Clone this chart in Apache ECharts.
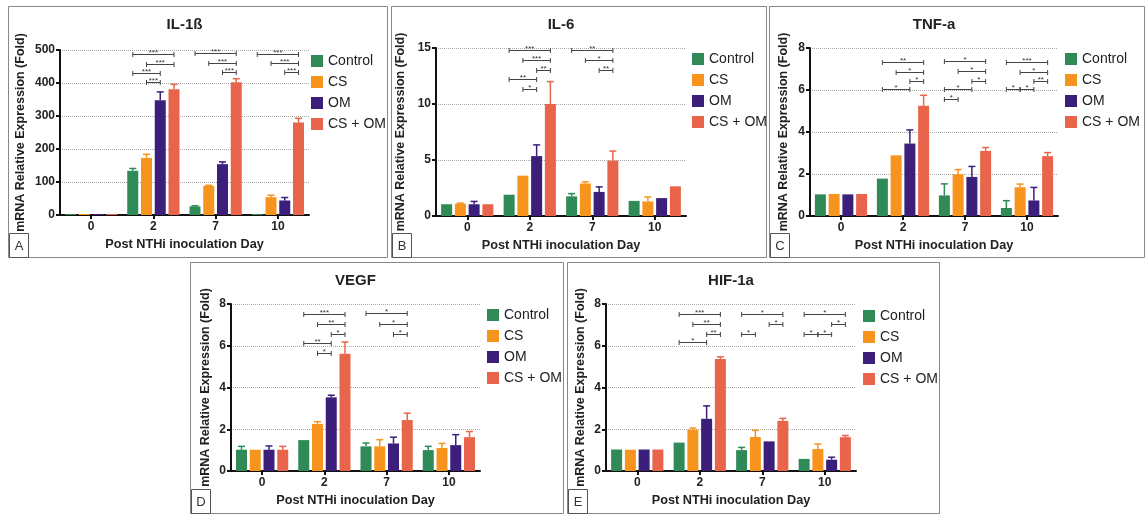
<!DOCTYPE html>
<html><head><meta charset="utf-8">
<script src="https://cdn.jsdelivr.net/npm/echarts@6/dist/echarts.min.js"></script>
<style>html,body{margin:0;padding:0;background:#fff}#c{width:1148px;height:515px}</style>
</head><body><div id="c"></div>
<script>
// ---------- DATA ----------
const days = ['0', '2', '7', '10'];
const groups = ['Control', 'CS', 'OM', 'CS + OM'];
const panelTitles = ['IL-1ß', 'IL-6', 'TNF-a', 'VEGF', 'HIF-1a'];
const panelLetters = ['A', 'B', 'C', 'D', 'E'];
const yMax = [500, 15, 8, 8, 8];
const yStep = [100, 5, 2, 2, 2];

// means: one row per group (Control, CS, OM, CS + OM), one column per day
const il1bMeans = [[1, 134, 26, 2], [1, 173, 88, 54], [1, 348, 154, 44], [1, 381, 402, 280]];
const il1bErrors = [[0, 7, 2, 0], [0, 11, 2, 6], [0, 25, 7, 9], [0, 15, 11, 13]];
const il6Means = [[1.05, 1.9, 1.75, 1.35], [1.1, 3.6, 2.9, 1.3], [1.05, 5.35, 2.15, 1.6], [1.05, 10.0, 4.95, 2.65]];
const il6Errors = [[0, 0, 0.25, 0], [0.05, 0, 0.15, 0.4], [0.25, 1.0, 0.45, 0], [0, 2.0, 0.85, 0]];
const tnfMeans = [[1.03, 1.78, 0.98, 0.38], [1.05, 2.89, 1.99, 1.37], [1.03, 3.45, 1.86, 0.74], [1.05, 5.25, 3.1, 2.85]];
const tnfErrors = [[0, 0, 0.55, 0.35], [0, 0, 0.22, 0.15], [0, 0.65, 0.5, 0.62], [0, 0.5, 0.16, 0.17]];
const vegfMeans = [[1.02, 1.48, 1.18, 1.0], [1.02, 2.25, 1.18, 1.1], [1.02, 3.53, 1.32, 1.24], [1.02, 5.62, 2.44, 1.62]];
const vegfErrors = [[0.16, 0, 0.16, 0.18], [0, 0.11, 0.32, 0.22], [0.18, 0.1, 0.3, 0.5], [0.16, 0.56, 0.33, 0.27]];
const hifMeans = [[1.03, 1.36, 1.0, 0.58], [1.02, 1.98, 1.63, 1.05], [1.03, 2.5, 1.42, 0.54], [1.03, 5.37, 2.4, 1.62]];
const hifErrors = [[0, 0, 0.13, 0], [0, 0.08, 0.32, 0.24], [0, 0.62, 0, 0.12], [0, 0.1, 0.12, 0.08]];

// significance brackets: [dayIndex, fromGroup, toGroup, yValue, label]
const il1bSig = [[1,0,3,487,'***'],[1,1,3,459,'***'],[1,0,2,429,'***'],[1,1,2,404,'***'],
  [2,0,3,490,'***'],[2,1,3,461,'***'],[2,2,3,434,'***'],
  [3,0,3,489,'***'],[3,1,3,460,'***'],[3,2,3,434,'***']];
const il6Sig = [[1,0,3,14.8,'***'],[1,1,3,13.9,'***'],[1,2,3,13.0,'**'],[1,0,2,12.2,'**'],[1,1,2,11.3,'*'],
  [2,0,3,14.8,'**'],[2,1,3,13.9,'*'],[2,2,3,13.0,'**']];
const tnfSig = [[1,0,3,7.34,'**'],[1,1,3,6.88,'*'],[1,2,3,6.42,'*'],[1,0,2,6.03,'*'],
  [2,0,3,7.39,'*'],[2,1,3,6.9,'*'],[2,2,3,6.44,'*'],[2,0,2,6.03,'*'],[2,0,1,5.55,'*'],
  [3,0,3,7.34,'***'],[3,1,3,6.88,'*'],[3,2,3,6.42,'**'],[3,0,1,6.03,'*'],[3,1,2,6.03,'*']];
const vegfSig = [[1,0,3,7.51,'***'],[1,1,3,7.04,'**'],[1,2,3,6.58,'*'],[1,0,2,6.12,'**'],[1,1,2,5.64,'*'],
  [2,0,3,7.56,'*'],[2,1,3,7.06,'*'],[2,2,3,6.57,'*']];
const hifSig = [[1,0,3,7.51,'***'],[1,1,3,7.02,'**'],[1,2,3,6.57,'**'],[1,0,2,6.17,'*'],
  [2,0,3,7.53,'*'],[2,2,3,7.02,'*'],[2,0,1,6.57,'*'],
  [3,0,3,7.53,'*'],[3,2,3,7.02,'*'],[3,0,1,6.57,'*'],[3,1,2,6.57,'*']];

const allMeans = [il1bMeans, il6Means, tnfMeans, vegfMeans, hifMeans];
const allErrors = [il1bErrors, il6Errors, tnfErrors, vegfErrors, hifErrors];
const allSig = [il1bSig, il6Sig, tnfSig, vegfSig, hifSig];

// ---------- STYLE / LAYOUT ----------
const groupColors = ['#2f8a57', '#f7941d', '#3b1f7a', '#e8644a'];
const FONT = '"Liberation Sans", Arial, sans-serif';
const BAR_W = 11, BAR_GAP = 2.75, STEP = BAR_W + BAR_GAP;
const layout = [
  {box: [8, 6, 379, 251], grid: {left: 60, top: 50, width: 249, height: 165}, nameGap: 33, legend: [311, 54]},
  {box: [391, 6, 375, 251], grid: {left: 436, top: 48, width: 250, height: 168}, nameGap: 29, legend: [692, 52]},
  {box: [769, 6, 375, 251], grid: {left: 810, top: 48, width: 248, height: 168}, nameGap: 20, legend: [1065, 52]},
  {box: [190, 262, 373, 251], grid: {left: 231, top: 304, width: 249, height: 167}, nameGap: 19, legend: [487, 308]},
  {box: [567, 262, 372, 251], grid: {left: 606, top: 304, width: 250, height: 167}, nameGap: 19, legend: [863, 309]}
];

const grids = [], xAxes = [], yAxes = [], series = [], legends = [], graphics = [];

layout.forEach((L, i) => {
  grids.push(Object.assign({containLabel: false}, L.grid));
  xAxes.push({
    type: 'category', gridIndex: i, data: days,
    axisLine: {lineStyle: {color: '#111', width: 2}},
    axisTick: {show: true, alignWithLabel: true, length: 4, lineStyle: {color: '#111', width: 2}},
    axisLabel: {fontWeight: 'bold', fontSize: 12, color: '#222', margin: 6, fontFamily: FONT},
    name: 'Post NTHi inoculation Day', nameLocation: 'middle', nameGap: 23,
    nameTextStyle: {fontWeight: 'bold', fontSize: 12.7, color: '#222', fontFamily: FONT}
  });
  yAxes.push({
    type: 'value', gridIndex: i, min: 0, max: yMax[i], interval: yStep[i],
    axisLine: {show: true, lineStyle: {color: '#111', width: 2}},
    axisTick: {show: true, length: 4, lineStyle: {color: '#111', width: 2}},
    axisLabel: {fontWeight: 'bold', fontSize: 12, color: '#222', margin: 5, fontFamily: FONT},
    splitLine: {show: true, lineStyle: {color: '#aaa', type: 'dotted', width: 1}},
    name: 'mRNA Relative Expression (Fold)', nameLocation: 'middle', nameGap: L.nameGap,
    nameTextStyle: {fontWeight: 'bold', fontSize: 12.5, color: '#222', fontFamily: FONT}
  });
  groups.forEach((g, gi) => {
    series.push({
      type: 'bar', name: g, xAxisIndex: i, yAxisIndex: i,
      data: allMeans[i][gi], barWidth: BAR_W, barGap: (BAR_GAP / BAR_W * 100) + '%',
      barMinHeight: 1, itemStyle: {color: groupColors[gi]}, z: 2
    });
  });
  // error bars
  const errData = [];
  allMeans[i].forEach((row, gi) => row.forEach((m, d) => {
    const e = allErrors[i][gi][d];
    if (e > 0) errData.push([d, gi, m, e]);
  }));
  series.push({
    type: 'custom', xAxisIndex: i, yAxisIndex: i, data: errData, encode: {x: 0, y: 2}, z: 3,
    renderItem: function (params, api) {
      const d = api.value(0), gi = api.value(1), m = api.value(2), e = api.value(3);
      const b = api.coord([d, m]), t = api.coord([d, m + e]);
      const x = b[0] + (gi - 1.5) * STEP;
      const c = groupColors[gi];
      return {type: 'group', children: [
        {type: 'line', shape: {x1: x, y1: b[1], x2: x, y2: t[1]}, style: {stroke: c, lineWidth: 1.5}},
        {type: 'line', shape: {x1: x - 3.5, y1: t[1], x2: x + 3.5, y2: t[1]}, style: {stroke: c, lineWidth: 1.5}}
      ]};
    }
  });
  // significance brackets
  const sig = allSig[i];
  series.push({
    type: 'custom', xAxisIndex: i, yAxisIndex: i,
    data: sig.map(s => [s[0], s[1], s[2], s[3]]), encode: {x: 0, y: 3}, z: 4,
    renderItem: function (params, api) {
      const s = sig[params.dataIndex];
      const p = api.coord([s[0], s[3]]);
      const x1 = p[0] + (s[1] - 1.5) * STEP, x2 = p[0] + (s[2] - 1.5) * STEP, y = Math.round(p[1]) + 0.5;
      const st = {stroke: '#444', lineWidth: 1};
      return {type: 'group', children: [
        {type: 'line', shape: {x1: x1, y1: y, x2: x2, y2: y}, style: st},
        {type: 'line', shape: {x1: x1, y1: y - 2.5, x2: x1, y2: y + 2.5}, style: st},
        {type: 'line', shape: {x1: x2, y1: y - 2.5, x2: x2, y2: y + 2.5}, style: st},
        {type: 'text', style: {text: s[4], x: (x1 + x2) / 2, y: y + 2, align: 'center', verticalAlign: 'bottom',
          fontSize: 8, fill: '#333', fontFamily: FONT}}
      ]};
    }
  });
  legends.push({
    left: L.legend[0], top: L.legend[1], orient: 'vertical', icon: 'rect',
    itemWidth: 12, itemHeight: 12, itemGap: 7, padding: 0, selectedMode: false,
    data: groups, textStyle: {fontSize: 14, color: '#222', lineHeight: 12, fontFamily: FONT}
  });
  // panel frame, title, letter
  const bx = L.box;
  graphics.push({type: 'rect', shape: {x: bx[0] + 0.5, y: bx[1] + 0.5, width: bx[2], height: bx[3]},
    style: {fill: 'none', stroke: '#888', lineWidth: 1}, silent: true});
  graphics.push({type: 'text', style: {text: panelTitles[i], x: L.grid.left + L.grid.width / 2, y: bx[1] + 19,
    align: 'center', verticalAlign: 'middle', fontSize: 15, fontWeight: 'bold', fill: '#222', fontFamily: FONT}});
  graphics.push({type: 'rect', shape: {x: bx[0] + 1.5, y: bx[1] + bx[3] - 23.5, width: 19, height: 24},
    style: {fill: '#fff', stroke: '#555', lineWidth: 1}});
  graphics.push({type: 'text', style: {text: panelLetters[i], x: bx[0] + 11, y: bx[1] + bx[3] - 11,
    align: 'center', verticalAlign: 'middle', fontSize: 13, fill: '#333', fontFamily: FONT}});
});

const chart = echarts.init(document.getElementById('c'), null, {renderer: 'canvas'});
chart.setOption({
  backgroundColor: '#fff',
  animation: false,
  textStyle: {fontFamily: FONT},
  grid: grids, xAxis: xAxes, yAxis: yAxes, series: series, legend: legends,
  graphic: graphics
});
</script>
</body></html>
